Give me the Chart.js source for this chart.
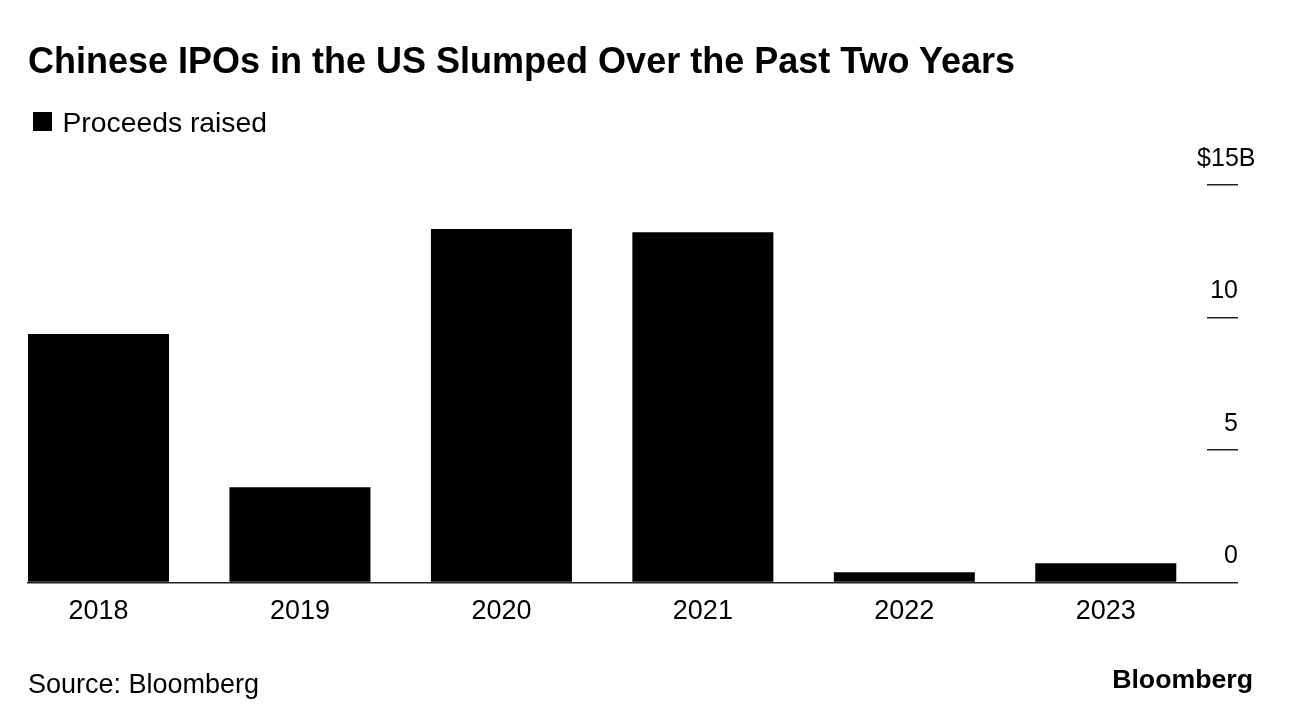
<!DOCTYPE html>
<html>
<head>
<meta charset="utf-8">
<script src="https://cdn.jsdelivr.net/npm/chart.js@4.4.1/dist/chart.umd.min.js"></script>
<style>
html,body{margin:0;padding:0;background:#fff;}
body{width:1292px;height:726px;position:relative;overflow:hidden;font-family:"Liberation Sans",Arial,sans-serif;color:#000;}
#wrap{position:absolute;left:0;top:0;width:1292px;height:726px;}
.t{position:absolute;white-space:nowrap;}
#title{left:28px;top:43px;font-size:36px;line-height:36px;font-weight:bold;}
#legbox{position:absolute;left:33px;top:112px;width:19px;height:19px;background:#000;}
#legtext{left:62.5px;top:108px;font-size:28.3px;line-height:28.3px;}
#source{left:28px;top:671px;font-size:27px;line-height:27px;}
#logo{right:39px;top:666px;font-size:26.7px;line-height:26.7px;font-weight:bold;}
</style>
</head>
<body>
<div id="wrap"><canvas id="c"></canvas></div>
<div class="t" id="title">Chinese IPOs in the US Slumped Over the Past Two Years</div>
<div id="legbox"></div>
<div class="t" id="legtext">Proceeds raised</div>
<div class="t" id="source">Source: Bloomberg</div>
<div class="t" id="logo">Bloomberg</div>
<script>
const years = [2018, 2019, 2020, 2021, 2022, 2023];
const proceeds = [9.38, 3.6, 13.34, 13.22, 0.39, 0.73];
const yTicks = [0, 5, 10, 15];
const yTickLabels = ['0', '5', '10', '$15B'];
const seriesName = 'Proceeds raised';

const FONT = '"Liberation Sans", Arial, sans-serif';
const pad = '\u2002\u2009';
const TICK_LEN = 31.5;

new Chart(document.getElementById('c'), {
  type: 'bar',
  data: {
    datasets: [{
      label: seriesName,
      data: years.map((y, i) => ({x: y, y: proceeds[i]})),
      backgroundColor: '#000',
      borderWidth: 0,
      categoryPercentage: 0.7,
      barPercentage: 1
    }]
  },
  options: {
    responsive: true,
    maintainAspectRatio: false,
    animation: false,
    layout: {padding: {left: 28, top: 185, right: 54, bottom: 85}},
    plugins: {legend: {display: false}, title: {display: false}, tooltip: {enabled: false}},
    scales: {
      x: {
        type: 'linear',
        offset: false,
        min: years[0] - 0.35,
        max: years[years.length - 1] + 0.5,
        afterBuildTicks: s => { s.ticks = years.map(v => ({value: v})); },
        grid: {display: true, offset: false, drawOnChartArea: false, drawTicks: false},
        border: {display: true, color: '#222', width: 1.5},
        ticks: {
          callback: v => String(v),
          color: '#000',
          font: {family: FONT, size: 27},
          padding: 13,
          maxRotation: 0,
          autoSkip: false
        }
      },
      y: {
        position: 'right',
        min: 0,
        max: 15,
        afterBuildTicks: s => { s.ticks = yTicks.map(v => ({value: v})); },
        afterFit: s => { s.width = TICK_LEN; },
        grid: {drawOnChartArea: false, drawTicks: true, tickLength: TICK_LEN, color: '#222', lineWidth: 1.5},
        border: {display: false},
        ticks: {
          mirror: true,
          padding: 49,
          labelOffset: -26,
          color: '#000',
          font: {family: FONT, size: 25},
          callback: (v) => {
            const i = yTicks.indexOf(v);
            return i === yTicks.length - 1 ? yTickLabels[i] : yTickLabels[i] + pad;
          }
        }
      }
    }
  }
});
</script>
</body>
</html>
